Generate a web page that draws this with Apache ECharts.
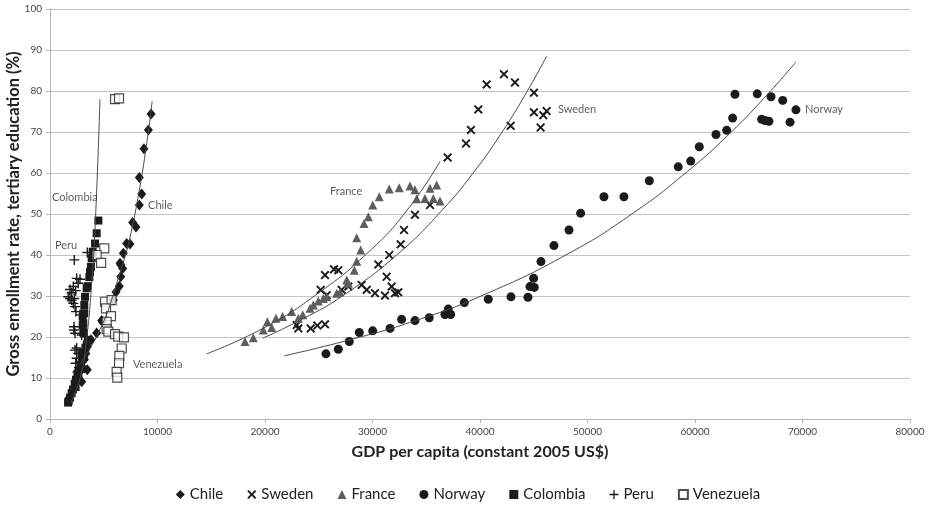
<!DOCTYPE html>
<html>
<head>
<meta charset="utf-8">
<script src="https://cdn.jsdelivr.net/npm/echarts@6/dist/echarts.min.js"></script>
<style>
  html, body { margin: 0; padding: 0; background: #fff; }
  #chart { width: 936px; height: 515px; }
</style>
</head>
<body>
<div id="chart"></div>
<script>
// axis ticks
var xTicks = [0, 10000, 20000, 30000, 40000, 50000, 60000, 70000, 80000];
var yTicks = [0, 10, 20, 30, 40, 50, 60, 70, 80, 90, 100];

// [GDP per capita, gross enrollment %]
var chile = [[2950, 9.1], [2800, 11.8], [3000, 12.7], [3470, 12.0], [3200, 14.5], [3330, 16.0],
    [3470, 17.6], [3660, 18.9], [3810, 19.3], [4340, 21.0], [4810, 24.0], [4870, 23.7],
    [5890, 29.0], [6140, 31.0], [6450, 32.4], [6580, 34.7], [6760, 36.7], [6580, 37.6],
    [6510, 38.0], [6820, 40.4], [7130, 42.8], [7440, 42.7], [7690, 47.9], [8000, 46.8],
    [8310, 52.2], [8530, 54.9], [8310, 58.9], [8740, 65.9], [9150, 70.5], [9400, 74.4]];
var sweden = [[23100, 22.1], [22950, 22.9], [24250, 22.1], [24870, 22.8], [25580, 23.1],
    [25180, 31.5], [25580, 35.1], [26420, 36.5], [26820, 36.3], [25740, 30.2], [27130, 31.5],
    [27750, 32.3], [28990, 32.7], [29460, 31.5], [30230, 30.7], [31160, 30.1], [31780, 32.3],
    [32090, 30.7], [32400, 30.9], [31320, 34.7], [30540, 37.7], [31560, 40.0], [32620, 42.6],
    [32930, 46.1], [33950, 49.8], [35350, 52.2], [36990, 63.8], [38700, 67.2], [39160, 70.5],
    [39840, 75.5], [40620, 81.6], [42230, 84.1], [43250, 82.1], [42850, 71.5], [45020, 79.6],
    [45020, 74.8], [45890, 74.1], [46200, 75.1], [45640, 71.1]];
var france = [[18140, 18.9], [18910, 19.8], [19840, 21.7], [20620, 22.3], [20220, 23.7],
    [21020, 24.6], [21640, 25.0], [22480, 26.2], [23100, 24.6], [23510, 25.4], [24190, 27.0],
    [24500, 27.8], [24960, 28.8], [25420, 29.4], [25740, 29.8], [26670, 30.7], [26980, 31.0],
    [27600, 33.9], [27750, 33.1], [28310, 36.3], [28530, 38.5], [28900, 41.2], [28530, 44.2],
    [29210, 47.7], [29610, 49.3], [30020, 52.2], [30630, 54.2], [31560, 56.1], [32490, 56.4],
    [33490, 56.8], [33950, 55.9], [34110, 53.7], [34880, 53.8], [35350, 56.3], [35970, 57.1],
    [35660, 53.8], [36280, 53.2]];
var norway = [[25670, 15.9], [26820, 17.0], [27840, 18.9], [28770, 21.1], [30020, 21.5],
    [31630, 22.1], [32710, 24.3], [33950, 24.0], [35280, 24.7], [36740, 25.5], [37050, 26.8],
    [37270, 25.5], [38540, 28.4], [40770, 29.2], [42880, 29.8], [44460, 29.7], [44650, 32.3],
    [45050, 32.1], [44990, 34.3], [45670, 38.4], [46880, 42.3], [48280, 46.1], [49360, 50.2],
    [51530, 54.2], [53390, 54.2], [55750, 58.1], [58440, 61.5], [59600, 62.9], [60400, 66.4],
    [61950, 69.4], [62950, 70.4], [63500, 73.4], [63720, 79.2], [65790, 79.3], [67070, 78.6],
    [68160, 77.7], [69390, 75.4], [66200, 73.1], [66510, 72.8], [66880, 72.6], [68840, 72.4]];
var colombia = [[4500, 48.4], [4340, 45.3], [4190, 42.8], [3970, 40.8], [3880, 39.2],
    [3810, 37.1], [3720, 35.9], [3660, 34.6], [3500, 32.4], [3410, 31.9], [3260, 29.8],
    [3190, 27.8], [3190, 25.8], [3040, 25.0], [3100, 23.3], [3040, 22.9], [3100, 21.1],
    [3160, 20.9], [3530, 19.3], [3300, 17.4], [3420, 18.2], [3060, 16.2], [3150, 15.1],
    [2980, 14.6], [2850, 13.1], [2920, 12.2], [2700, 12.0], [2560, 11.1], [2640, 10.2],
    [2420, 9.6], [2300, 8.6], [2380, 7.8], [2140, 7.2], [2010, 6.3], [1860, 5.2],
    [1740, 4.4], [1680, 4.0]];
var peru = [[2260, 38.8], [3470, 40.6], [2480, 34.3], [2790, 34.1], [2630, 33.1], [2170, 32.3],
    [1860, 31.6], [2020, 30.8], [2390, 31.3], [2260, 29.4], [1860, 29.4], [1700, 29.8],
    [2020, 29.0], [2170, 28.2], [2330, 27.4], [2420, 26.2], [2790, 25.4], [2230, 22.5],
    [2230, 21.7], [2330, 20.9], [2950, 20.5], [2480, 17.3], [2330, 16.8], [2630, 16.0],
    [2480, 14.8], [2390, 13.6], [2700, 12.5], [2560, 11.4]];
var venezuela = [[6050, 78.0], [6420, 78.2], [5050, 41.6], [4340, 40.0], [4750, 38.1],
    [5120, 28.6], [5730, 29.0], [5210, 27.0], [5670, 25.1], [5270, 23.7], [5270, 21.9],
    [5430, 21.3], [6050, 20.7], [6350, 20.1], [6880, 19.9], [6670, 17.2], [6450, 15.4],
    [6420, 13.6], [6200, 11.5], [6260, 10.1]];

// trendlines
var trendColombia = [[1900, 3.8], [2800, 10], [3400, 19.5], [3900, 34], [4250, 50], [4650, 78]];
var trendChile = [[2800, 13.4], [4500, 21], [6000, 31.3], [7900, 50], [9500, 77.5]];
var trendFrance = [[14577, 15.9], [19800, 22.1], [24650, 30.1], [29580, 40.6], [33180, 50.8], [36280, 62.8]];
var trendSweden = [[19783, 19.7], [23500, 24.4], [27256, 30.1], [32250, 40], [36430, 50.8], [39360, 60],
    [42060, 70], [44340, 79.7], [46200, 88.5]];
var trendNorway = [[21767, 15.4], [27720, 19.2], [34000, 24.0], [40280, 30.2], [48190, 40.3], [54230, 50.2],
    [59300, 60.4], [63255, 69.7], [66820, 79.4], [69395, 87.1]];

// country labels: [x, y, text]
var countryLabels = [[190, 54.1, 'Colombia'], [9120, 52.0, 'Chile'], [465, 42.4, 'Peru'],
    [7720, 13.2, 'Venezuela'], [26050, 55.6, 'France'], [47250, 75.6, 'Sweden'],
    [70230, 75.4, 'Norway']];

var legendNames = ['Chile', 'Sweden', 'France', 'Norway', 'Colombia', 'Peru', 'Venezuela'];

var INK = '#1b1b1b';
var FONT = 'Lato, "Open Sans", sans-serif';
var crossPath = 'path://M0,3 L3,0 L10,7 L17,0 L20,3 L13,10 L20,17 L17,20 L10,13 L3,20 L0,17 L7,10 Z';
var plusPath = 'path://M8.6,0 H11.4 V8.6 H20 V11.4 H11.4 V20 H8.6 V11.4 H0 V8.6 H8.6 Z';

function scatter(name, data, symbol, size, color, extra) {
    var s = {
        name: name,
        type: 'scatter',
        data: data,
        symbol: symbol,
        symbolSize: size,
        itemStyle: { color: color, opacity: 1 },
        z: 3
    };
    if (extra) s.itemStyle = extra;
    return s;
}

function trend(data) {
    return {
        type: 'line',
        data: data,
        smooth: 0.5,
        showSymbol: false,
        symbol: 'none',
        silent: true,
        lineStyle: { color: '#4a4a4a', width: 1 },
        z: 5
    };
}

var chart = echarts.init(document.getElementById('chart'), null, { renderer: 'canvas' });

var series = [
    scatter('Chile', chile, 'diamond', [9, 11], INK),
    scatter('Sweden', sweden, crossPath, 9, INK),
    scatter('France', france, 'triangle', 9, '#5e5e5e'),
    scatter('Norway', norway, 'circle', 9, INK),
    scatter('Colombia', colombia, 'rect', 8, INK),
    scatter('Peru', peru, plusPath, 10, INK),
    scatter('Venezuela', venezuela, 'rect', 9, '#fff',
        { color: '#fff', borderColor: '#222', borderWidth: 1.2 }),
    trend(trendColombia),
    trend(trendChile),
    trend(trendFrance),
    trend(trendSweden),
    trend(trendNorway),
    {
        type: 'scatter',
        silent: true,
        symbolSize: 0,
        data: countryLabels.map(function(d) { return { value: [d[0], d[1]], name: d[2] }; }),
        label: {
            show: true,
            position: 'right',
            distance: 0,
            formatter: '{b}',
            color: '#333',
            fontSize: 11,
            fontFamily: FONT
        },
        z: 6
    }
];

chart.setOption({
    animation: false,
    backgroundColor: '#fff',
    textStyle: { fontFamily: FONT },
    grid: { left: 50, right: 26, top: 9, bottom: 96, containLabel: false, outerBoundsMode: 'none' },
    legend: {
        data: legendNames,
        bottom: 8,
        left: 'center',
        itemWidth: 9,
        itemHeight: 9,
        itemGap: 24,
        textStyle: { color: '#222', fontSize: 15, fontFamily: FONT }
    },
    xAxis: {
        type: 'value',
        min: xTicks[0],
        max: xTicks[xTicks.length - 1],
        interval: 10000,
        name: 'GDP per capita (constant 2005 US$)',
        nameLocation: 'middle',
        nameGap: 25,
        nameMoveOverlap: false,
        nameTextStyle: { fontSize: 16, fontWeight: 'bold', color: '#222', fontFamily: FONT },
        axisLine: { show: true, lineStyle: { color: '#b5b5b5' } },
        axisTick: { show: true, length: 4, lineStyle: { color: '#b5b5b5' } },
        axisLabel: { color: '#444', fontSize: 10, margin: 8, formatter: function(v) { return String(v); } },
        splitLine: { show: false }
    },
    yAxis: {
        type: 'value',
        min: yTicks[0],
        max: yTicks[yTicks.length - 1],
        interval: 10,
        name: 'Gross enrollment rate, tertiary education (%)',
        nameLocation: 'middle',
        nameGap: 28,
        nameMoveOverlap: false,
        nameTextStyle: { fontSize: 16.5, fontWeight: 'bold', color: '#222', fontFamily: FONT },
        axisLine: { show: true, lineStyle: { color: '#b5b5b5' } },
        axisTick: { show: true, length: 4, lineStyle: { color: '#b5b5b5' } },
        axisLabel: { color: '#444', fontSize: 10, margin: 8, formatter: function(v) { return String(v); } },
        splitLine: { show: true, lineStyle: { color: '#c4c4c4', width: 1 } }
    },
    series: series
});
</script>
</body>
</html>
